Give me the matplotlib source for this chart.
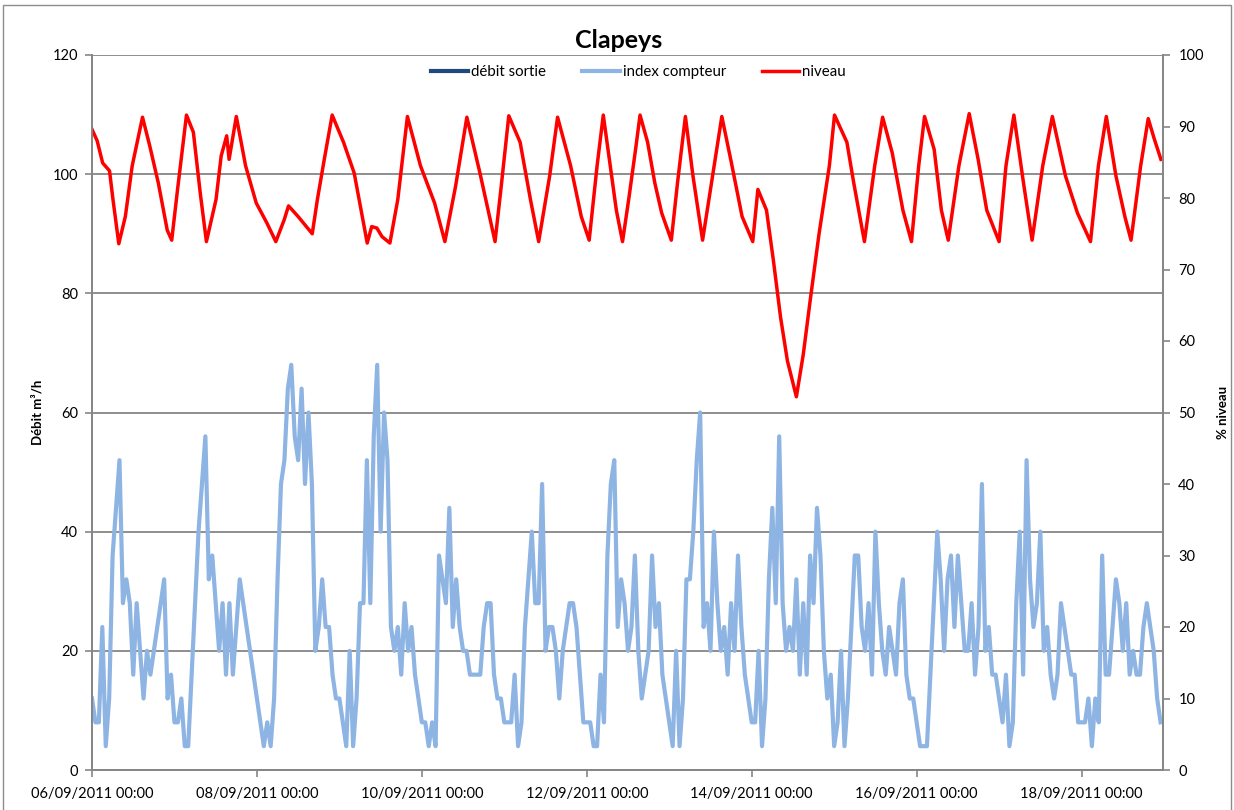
import matplotlib
matplotlib.use('Agg')
import matplotlib.pyplot as plt
import matplotlib.dates as mdates
from matplotlib.patches import Rectangle
import pandas as pd

plt.rcParams['font.family'] = ['Lato', 'DejaVu Sans']

debut = pd.Timestamp('2011-09-06 00:00')

# index compteur (m3/h), one value per hour, one list per day
jour_06 = [12, 8, 8, 24, 4, 12, 36, 44, 52, 28, 32, 28, 16, 28, 20, 12, 20, 16, 20, 24, 28, 32, 12, 16]
jour_07 = [8, 8, 12, 4, 4, 16, 28, 40, 48, 56, 32, 36, 28, 20, 28, 16, 28, 16, 24, 32, 28, 24, 20, 16]
jour_08 = [12, 8, 4, 8, 4, 12, 32, 48, 52, 64, 68, 56, 52, 64, 48, 60, 48, 20, 24, 32, 24, 24, 16, 12]
jour_09 = [12, 8, 4, 20, 4, 12, 28, 28, 52, 28, 56, 68, 40, 60, 52, 24, 20, 24, 16, 28, 20, 24, 16, 12]
jour_10 = [8, 8, 4, 8, 4, 36, 32, 28, 44, 24, 32, 24, 20, 20, 16, 16, 16, 16, 24, 28, 28, 16, 12, 12]
jour_11 = [8, 8, 8, 16, 4, 8, 24, 32, 40, 28, 28, 48, 20, 24, 24, 20, 12, 20, 24, 28, 28, 24, 16, 8]
jour_12 = [8, 8, 4, 4, 16, 8, 36, 48, 52, 24, 32, 28, 20, 24, 36, 20, 12, 16, 20, 36, 24, 28, 16, 12]
jour_13 = [8, 4, 20, 4, 12, 32, 32, 40, 52, 60, 24, 28, 20, 40, 28, 20, 24, 16, 28, 20, 36, 24, 16, 12]
jour_14 = [8, 8, 20, 4, 12, 32, 44, 28, 56, 28, 20, 24, 20, 32, 16, 28, 16, 36, 28, 44, 36, 20, 12, 16]
jour_15 = [4, 8, 20, 4, 12, 24, 36, 36, 24, 20, 28, 16, 40, 28, 20, 16, 24, 20, 16, 28, 32, 16, 12, 12]
jour_16 = [8, 4, 4, 4, 16, 28, 40, 32, 20, 32, 36, 24, 36, 28, 20, 20, 28, 16, 24, 48, 20, 24, 16, 16]
jour_17 = [12, 8, 16, 4, 8, 28, 40, 16, 52, 32, 24, 28, 40, 20, 24, 16, 12, 16, 28, 24, 20, 16, 16, 8]
jour_18 = [8, 8, 12, 4, 12, 8, 36, 16, 16, 24, 32, 28, 20, 28, 16, 20, 16, 16, 24, 28, 24, 20, 12, 8]

# niveau (%), hours since start and value
niveau_heures = [0, 1.5, 3.1, 5.1, 6.1, 7.8, 9.7, 11.7, 14.7, 16.8, 19.3, 21.9, 23.2, 24.9, 27.5,
                 29.5, 31.5, 33.3, 36.1, 37.6, 39.2, 39.9, 42.0, 44.7, 47.8, 50.9, 53.5, 55.9, 57.2,
                 60.0, 64.1, 65.6, 67.6, 69.9, 73.2, 76.3, 80.1, 81.4, 82.9, 84.4, 86.7, 89.0, 91.8,
                 95.6, 99.7, 102.7, 105.8, 109.1, 112.9, 117.3, 119.0, 121.3, 124.6, 127.6, 130.0,
                 133.2, 135.5, 139.3, 142.4, 144.7, 147.0, 148.8, 152.6, 154.4, 156.2, 158.2, 159.5,
                 161.7, 163.8, 165.8, 168.6, 170.4, 172.7, 174.9, 177.7, 180.0, 183.3, 186.1, 189.2,
                 192.3, 193.8, 196.3, 198.3, 200.4, 202.4, 205.0, 207.0, 209.0, 211.6, 214.6, 216.1,
                 219.7, 221.7, 224.8, 227.8, 230.1, 232.9, 236.0, 238.5, 240.6, 242.3, 245.1, 247.2,
                 249.2, 252.3, 255.3, 257.9, 260.4, 264.0, 266.0, 268.3, 271.1, 273.6, 276.7, 279.5,
                 283.3, 286.8, 290.6, 292.9, 295.2, 298.0, 300.6, 302.4, 305.2, 307.4, 309.2, 311.1]
niveau = [89.6, 88.0, 84.9, 83.8, 79.8, 73.6, 77.4, 84.5, 91.3, 87.3, 82.1, 75.5, 74.1, 81.2, 91.6,
          89.2, 80.7, 73.9, 79.8, 85.9, 88.7, 85.4, 91.4, 84.5, 79.3, 76.5, 73.9, 76.9, 78.9,
          77.4, 75.0, 79.8, 85.4, 91.6, 87.8, 83.5, 73.7, 76.0, 75.8, 74.6, 73.7, 79.8, 91.4,
          84.5, 79.3, 73.9, 81.6, 91.3, 83.5, 73.9, 81.2, 91.5, 87.8, 79.8, 73.9,
          83.1, 91.3, 84.5, 77.4, 74.1, 84.5, 91.6, 78.3, 73.9, 79.8, 86.8, 91.6,
          87.8, 82.1, 77.9, 74.1, 82.1, 91.4, 83.1, 74.1, 81.2, 91.4, 84.9, 77.4,
          73.9, 81.2, 78.3, 71.3, 63.3, 57.2, 52.2, 58.1, 65.6, 75.0, 84.5, 91.6,
          87.8, 82.1, 73.9, 84.5, 91.3, 86.3, 78.3, 73.9, 84.5, 91.4, 86.8, 78.3,
          74.1, 84.5, 91.8, 85.4, 78.3, 73.9, 84.5, 91.6, 82.1, 74.1, 84.5, 91.4,
          83.1, 77.9, 73.9, 84.5, 91.4, 83.1, 77.4, 74.1, 84.5, 91.1, 88.2, 85.4]

# débit sortie: no visible values in the chart
debit_sortie = []

index_compteur = (jour_06 + jour_07 + jour_08 + jour_09 + jour_10 + jour_11 + jour_12
                  + jour_13 + jour_14 + jour_15 + jour_16 + jour_17 + jour_18)
heures = pd.date_range(debut, periods=len(index_compteur), freq='h')
niveau_t = debut + pd.to_timedelta(niveau_heures, unit='h')

gris = '#868686'

fig = plt.figure(figsize=(12.34, 8.10), dpi=100)
ax = fig.add_axes([92 / 1234, 40 / 810, 1071 / 1234, 715 / 810])
ax2 = ax.twinx()

ax.plot(heures[:len(debit_sortie)], debit_sortie, color='#1F497D', lw=3, label='débit sortie')
ax.plot(heures, index_compteur, color='#8EB4E3', lw=3, solid_joinstyle='round',
        label='index compteur')
ax2.plot(niveau_t, niveau, color='#FF0000', lw=2.5, solid_joinstyle='round', label='niveau')

ax.set_ylim(0, 120)
ax.set_yticks(range(0, 121, 20))
ax2.set_ylim(0, 100)
ax2.set_yticks(range(0, 101, 10))
ax.grid(axis='y', color=gris, lw=1.3)
ax.set_axisbelow(True)

ax.set_xlim(debut, debut + pd.Timedelta(hours=311.7))
ax.set_xticks(pd.date_range('2011-09-06', '2011-09-18', freq='2D'))
ax.xaxis.set_major_formatter(mdates.DateFormatter('%d/%m/%Y %H:%M'))

for a in (ax, ax2):
    a.spines['top'].set_visible(False)
    for s in ('left', 'right', 'bottom'):
        a.spines[s].set_color(gris)
        a.spines[s].set_linewidth(1.3)
    a.tick_params(direction='out', length=5, width=1.2, color=gris, labelsize=10.5)
ax.tick_params(axis='x', pad=7)
ax.tick_params(axis='y', pad=5)
ax2.tick_params(axis='y', pad=6)

ax.set_ylabel('Débit m³/h', fontsize=9.5, fontweight='bold')
ax.yaxis.set_label_coords(-0.045, 0.5)
ax2.set_ylabel('% niveau', fontsize=9.5, fontweight='bold')
ax2.yaxis.set_label_coords(1.05, 0.5)

h1, l1 = ax.get_legend_handles_labels()
h2, l2 = ax2.get_legend_handles_labels()
ax2.legend(h1 + h2, l1 + l2, loc='upper center', bbox_to_anchor=(0.51, 1.005), ncol=3,
           frameon=False, fontsize=10.8, handlelength=2.5, handletextpad=0.2, columnspacing=2.4)

fig.text(619 / 1234, 1 - 40 / 810, 'Clapeys', ha='center', va='center', fontsize=18,
         fontweight='bold')

fig.patches.append(Rectangle((3 / 1234, -0.01), 1228 / 1234, 1.01 - 5 / 810,
                             transform=fig.transFigure, fill=False, edgecolor='#8c8c8c', lw=1))

fig.savefig('out.png', dpi=100)
